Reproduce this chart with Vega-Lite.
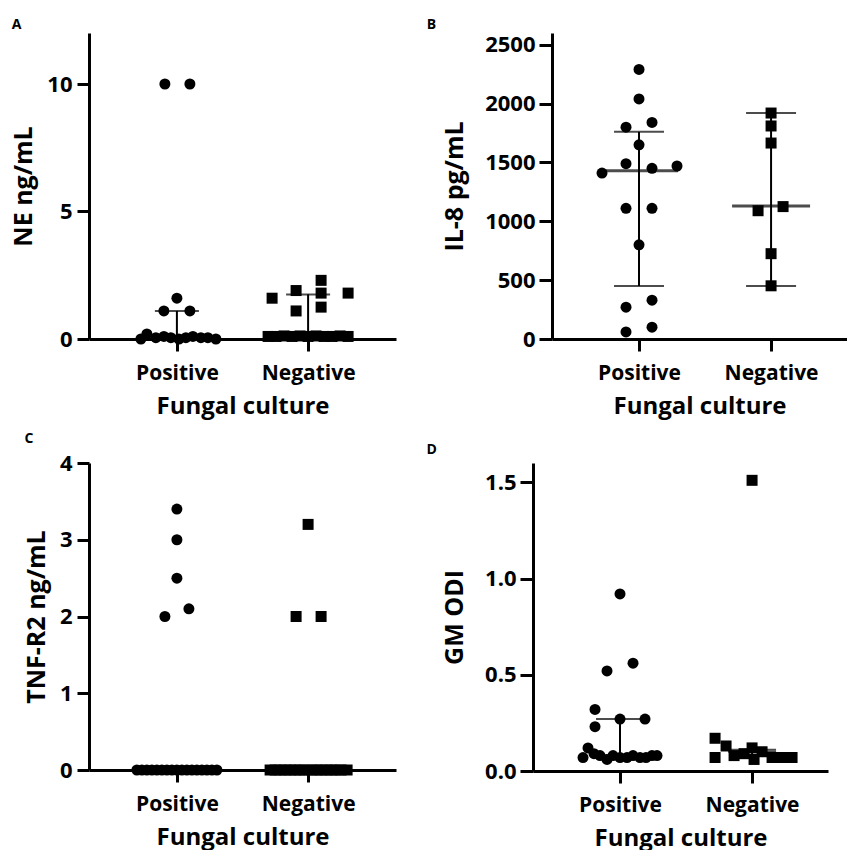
{
  "$schema": "https://vega.github.io/schema/vega-lite/v6.json",
  "background": "white",
  "padding": {"left": 11, "top": 18, "right": 0, "bottom": 0},
  "spacing": 14,
  "datasets": {
    "A": [
      {"group": "Positive", "col": -12, "value": 10}, {"group": "Positive", "col": 13, "value": 10},
      {"group": "Positive", "col": 0, "value": 1.6},
      {"group": "Positive", "col": -13, "value": 1.1}, {"group": "Positive", "col": 13, "value": 1.1},
      {"group": "Positive", "col": -36, "value": 0}, {"group": "Positive", "col": -30, "value": 0.2},
      {"group": "Positive", "col": -21, "value": 0.05}, {"group": "Positive", "col": -13, "value": 0.1},
      {"group": "Positive", "col": -6, "value": 0.05}, {"group": "Positive", "col": 2, "value": 0},
      {"group": "Positive", "col": 9, "value": 0.05}, {"group": "Positive", "col": 16, "value": 0.1},
      {"group": "Positive", "col": 24, "value": 0.05}, {"group": "Positive", "col": 31, "value": 0.05},
      {"group": "Positive", "col": 39, "value": 0},
      {"group": "Negative", "col": -36, "value": 1.6}, {"group": "Negative", "col": -12, "value": 1.9},
      {"group": "Negative", "col": -12, "value": 1.1}, {"group": "Negative", "col": 13, "value": 2.3},
      {"group": "Negative", "col": 13, "value": 1.8}, {"group": "Negative", "col": 13, "value": 1.25},
      {"group": "Negative", "col": 40, "value": 1.8},
      {"group": "Negative", "col": -40, "value": 0.1}, {"group": "Negative", "col": -32, "value": 0.1},
      {"group": "Negative", "col": -24, "value": 0.12}, {"group": "Negative", "col": -16, "value": 0.1},
      {"group": "Negative", "col": -8, "value": 0.12}, {"group": "Negative", "col": 0, "value": 0.1},
      {"group": "Negative", "col": 8, "value": 0.12}, {"group": "Negative", "col": 16, "value": 0.1},
      {"group": "Negative", "col": 24, "value": 0.1}, {"group": "Negative", "col": 32, "value": 0.12},
      {"group": "Negative", "col": 40, "value": 0.1}
    ],
    "Aeb": [
      {"group": "Positive", "lo": 0, "mid": 0.05, "hi": 1.1},
      {"group": "Negative", "lo": 0, "mid": 0.1, "hi": 1.75}
    ],
    "B": [
      {"group": "Positive", "col": 0, "value": 2290}, {"group": "Positive", "col": 0, "value": 2040},
      {"group": "Positive", "col": 13, "value": 1840}, {"group": "Positive", "col": -13, "value": 1800},
      {"group": "Positive", "col": 0, "value": 1650}, {"group": "Positive", "col": -13, "value": 1490},
      {"group": "Positive", "col": 13, "value": 1450}, {"group": "Positive", "col": 38, "value": 1470},
      {"group": "Positive", "col": -37, "value": 1410}, {"group": "Positive", "col": -13, "value": 1110},
      {"group": "Positive", "col": 13, "value": 1110}, {"group": "Positive", "col": 0, "value": 800},
      {"group": "Positive", "col": 13, "value": 330}, {"group": "Positive", "col": -13, "value": 270},
      {"group": "Positive", "col": 13, "value": 100}, {"group": "Positive", "col": -13, "value": 60},
      {"group": "Negative", "col": 0, "value": 1920}, {"group": "Negative", "col": 0, "value": 1810},
      {"group": "Negative", "col": 0, "value": 1665}, {"group": "Negative", "col": -13, "value": 1090},
      {"group": "Negative", "col": 12, "value": 1125}, {"group": "Negative", "col": 0, "value": 725},
      {"group": "Negative", "col": 0, "value": 452}
    ],
    "Beb": [
      {"group": "Positive", "lo": 450, "mid": 1430, "hi": 1760},
      {"group": "Negative", "lo": 450, "mid": 1130, "hi": 1920}
    ],
    "C": [
      {"group": "Positive", "col": 0, "value": 3.4}, {"group": "Positive", "col": 0, "value": 3.0},
      {"group": "Positive", "col": 0, "value": 2.5}, {"group": "Positive", "col": 12, "value": 2.1},
      {"group": "Positive", "col": -12, "value": 2.0},
      {"group": "Positive", "col": -40, "value": 0}, {"group": "Positive", "col": -35, "value": 0},
      {"group": "Positive", "col": -30, "value": 0}, {"group": "Positive", "col": -25, "value": 0},
      {"group": "Positive", "col": -20, "value": 0}, {"group": "Positive", "col": -15, "value": 0},
      {"group": "Positive", "col": -10, "value": 0}, {"group": "Positive", "col": -5, "value": 0},
      {"group": "Positive", "col": 0, "value": 0}, {"group": "Positive", "col": 5, "value": 0},
      {"group": "Positive", "col": 10, "value": 0}, {"group": "Positive", "col": 15, "value": 0},
      {"group": "Positive", "col": 20, "value": 0}, {"group": "Positive", "col": 25, "value": 0},
      {"group": "Positive", "col": 30, "value": 0}, {"group": "Positive", "col": 35, "value": 0},
      {"group": "Positive", "col": 40, "value": 0},
      {"group": "Negative", "col": 0, "value": 3.2}, {"group": "Negative", "col": -12, "value": 2.0},
      {"group": "Negative", "col": 13, "value": 2.0},
      {"group": "Negative", "col": -38, "value": 0}, {"group": "Negative", "col": -33, "value": 0},
      {"group": "Negative", "col": -28, "value": 0}, {"group": "Negative", "col": -23, "value": 0},
      {"group": "Negative", "col": -18, "value": 0}, {"group": "Negative", "col": -13, "value": 0},
      {"group": "Negative", "col": -8, "value": 0}, {"group": "Negative", "col": -3, "value": 0},
      {"group": "Negative", "col": 3, "value": 0}, {"group": "Negative", "col": 8, "value": 0},
      {"group": "Negative", "col": 13, "value": 0}, {"group": "Negative", "col": 18, "value": 0},
      {"group": "Negative", "col": 23, "value": 0}, {"group": "Negative", "col": 28, "value": 0},
      {"group": "Negative", "col": 33, "value": 0}, {"group": "Negative", "col": 39, "value": 0}
    ],
    "Ceb": [
      {"group": "Positive", "lo": 0, "mid": 0, "hi": 0},
      {"group": "Negative", "lo": 0, "mid": 0, "hi": 0}
    ],
    "D": [
      {"group": "Positive", "col": 0, "value": 0.92}, {"group": "Positive", "col": 13, "value": 0.56},
      {"group": "Positive", "col": -13, "value": 0.52}, {"group": "Positive", "col": -25, "value": 0.32},
      {"group": "Positive", "col": 0, "value": 0.27}, {"group": "Positive", "col": 25, "value": 0.27},
      {"group": "Positive", "col": -25, "value": 0.23},
      {"group": "Positive", "col": -37, "value": 0.07}, {"group": "Positive", "col": -32, "value": 0.12},
      {"group": "Positive", "col": -26, "value": 0.09}, {"group": "Positive", "col": -20, "value": 0.08},
      {"group": "Positive", "col": -13, "value": 0.06}, {"group": "Positive", "col": -7, "value": 0.08},
      {"group": "Positive", "col": 0, "value": 0.07}, {"group": "Positive", "col": 7, "value": 0.07},
      {"group": "Positive", "col": 13, "value": 0.08}, {"group": "Positive", "col": 20, "value": 0.07},
      {"group": "Positive", "col": 26, "value": 0.07}, {"group": "Positive", "col": 32, "value": 0.08},
      {"group": "Positive", "col": 37, "value": 0.08},
      {"group": "Negative", "col": 0, "value": 1.51}, {"group": "Negative", "col": -37, "value": 0.17},
      {"group": "Negative", "col": -37, "value": 0.07}, {"group": "Negative", "col": -26, "value": 0.13},
      {"group": "Negative", "col": -18, "value": 0.08}, {"group": "Negative", "col": -8, "value": 0.09},
      {"group": "Negative", "col": 0, "value": 0.12}, {"group": "Negative", "col": 2, "value": 0.06},
      {"group": "Negative", "col": 10, "value": 0.1}, {"group": "Negative", "col": 20, "value": 0.07},
      {"group": "Negative", "col": 30, "value": 0.07}, {"group": "Negative", "col": 40, "value": 0.07}
    ],
    "Deb": [
      {"group": "Positive", "lo": 0.07, "mid": 0.08, "hi": 0.27},
      {"group": "Negative", "lo": 0.07, "mid": 0.1, "hi": 0.11}
    ]
  },
  "vconcat": [
    {
      "spacing": 30,
      "hconcat": [
        {
          "width": 307, "height": 306,
          "title": {"text": "A", "dx": 0, "offset": 1},
          "layer": [
            {
              "data": {"name": "A"},
              "mark": {"type": "point", "filled": true, "size": 121, "opacity": 1, "color": "black"},
              "encoding": {
                "x": {"field": "group", "type": "nominal", "sort": ["Positive", "Negative"], "scale": {"type": "point", "padding": 0.67}, "title": "Fungal culture"},
                "xOffset": {"field": "col", "type": "quantitative", "scale": {"domain": [-50, 50], "range": [-50, 50]}},
                "y": {"field": "value", "type": "quantitative", "scale": {"domain": [0, 12]}, "axis": {"values": [0, 5, 10], "format": "d", "titlePadding": 10}, "title": "NE ng/mL"},
                "shape": {"field": "group", "type": "nominal", "scale": {"domain": ["Positive", "Negative"], "range": ["circle", "square"]}, "legend": null}
              }
            },
            {
              "data": {"name": "Aeb"},
              "mark": {"type": "rule", "color": "black", "strokeWidth": 2},
              "encoding": {
                "x": {"field": "group", "type": "nominal", "sort": ["Positive", "Negative"], "title": "Fungal culture"},
                "y": {"field": "lo", "type": "quantitative", "title": "NE ng/mL"},
                "y2": {"field": "hi"}
              }
            },
            {
              "data": {"name": "Aeb"},
              "mark": {"type": "tick", "color": "black", "thickness": 2, "size": 44},
              "encoding": {
                "x": {"field": "group", "type": "nominal", "sort": ["Positive", "Negative"], "title": "Fungal culture"},
                "y": {"field": "hi", "type": "quantitative", "title": "NE ng/mL"}
              }
            }
          ]
        },
        {
          "width": 295, "height": 306,
          "title": {"text": "B", "dx": -16, "offset": 1},
          "layer": [
            {
              "data": {"name": "B"},
              "mark": {"type": "point", "filled": true, "size": 121, "opacity": 1, "color": "black"},
              "encoding": {
                "x": {"field": "group", "type": "nominal", "sort": ["Positive", "Negative"], "scale": {"type": "point", "padding": 0.617, "align": 0.534}, "title": "Fungal culture"},
                "xOffset": {"field": "col", "type": "quantitative", "scale": {"domain": [-50, 50], "range": [-50, 50]}},
                "y": {"field": "value", "type": "quantitative", "scale": {"domain": [0, 2500]}, "axis": {"values": [0, 500, 1000, 1500, 2000, 2500], "format": "d", "labelPadding": 4, "tickSize": 13, "titlePadding": 17}, "title": "IL-8 pg/mL"},
                "shape": {"field": "group", "type": "nominal", "scale": {"domain": ["Positive", "Negative"], "range": ["circle", "square"]}, "legend": null}
              }
            },
            {
              "data": {"name": "Beb"},
              "mark": {"type": "rule", "color": "black", "strokeWidth": 2},
              "encoding": {
                "x": {"field": "group", "type": "nominal", "sort": ["Positive", "Negative"], "title": "Fungal culture"},
                "y": {"field": "lo", "type": "quantitative", "title": "IL-8 pg/mL"},
                "y2": {"field": "hi"}
              }
            },
            {
              "data": {"name": "Beb"},
              "mark": {"type": "tick", "color": "black", "thickness": 2, "size": 50},
              "encoding": {
                "x": {"field": "group", "type": "nominal", "sort": ["Positive", "Negative"], "title": "Fungal culture"},
                "y": {"field": "hi", "type": "quantitative", "title": "IL-8 pg/mL"}
              }
            },
            {
              "data": {"name": "Beb"},
              "mark": {"type": "tick", "color": "black", "thickness": 2, "size": 50},
              "encoding": {
                "x": {"field": "group", "type": "nominal", "sort": ["Positive", "Negative"], "title": "Fungal culture"},
                "y": {"field": "lo", "type": "quantitative", "title": "IL-8 pg/mL"}
              }
            },
            {
              "data": {"name": "Beb"},
              "mark": {"type": "tick", "color": "black", "thickness": 3, "size": 78},
              "encoding": {
                "x": {"field": "group", "type": "nominal", "sort": ["Positive", "Negative"], "title": "Fungal culture"},
                "y": {"field": "mid", "type": "quantitative", "title": "IL-8 pg/mL"}
              }
            }
          ]
        }
      ]
    },
    {
      "spacing": 30,
      "hconcat": [
        {
          "width": 307, "height": 307,
          "title": {"text": "C", "dx": 0},
          "layer": [
            {
              "data": {"name": "C"},
              "mark": {"type": "point", "filled": true, "size": 121, "opacity": 1, "color": "black"},
              "encoding": {
                "x": {"field": "group", "type": "nominal", "sort": ["Positive", "Negative"], "scale": {"type": "point", "padding": 0.67}, "title": "Fungal culture"},
                "xOffset": {"field": "col", "type": "quantitative", "scale": {"domain": [-50, 50], "range": [-50, 50]}},
                "y": {"field": "value", "type": "quantitative", "scale": {"domain": [0, 4]}, "axis": {"values": [0, 1, 2, 3, 4], "format": "d", "titlePadding": 10}, "title": "TNF-R2 ng/mL"},
                "shape": {"field": "group", "type": "nominal", "scale": {"domain": ["Positive", "Negative"], "range": ["circle", "square"]}, "legend": null}
              }
            },
            {
              "data": {"name": "Ceb"},
              "mark": {"type": "rule", "color": "black", "strokeWidth": 2},
              "encoding": {
                "x": {"field": "group", "type": "nominal", "sort": ["Positive", "Negative"], "title": "Fungal culture"},
                "y": {"field": "lo", "type": "quantitative", "title": "TNF-R2 ng/mL"},
                "y2": {"field": "hi"}
              }
            }
          ]
        },
        {
          "width": 295, "height": 308,
          "title": {"text": "D", "dx": -16},
          "layer": [
            {
              "data": {"name": "D"},
              "mark": {"type": "point", "filled": true, "size": 121, "opacity": 1, "color": "black"},
              "encoding": {
                "x": {"field": "group", "type": "nominal", "sort": ["Positive", "Negative"], "scale": {"type": "point", "padding": 0.617, "align": 0.534}, "title": "Fungal culture"},
                "xOffset": {"field": "col", "type": "quantitative", "scale": {"domain": [-50, 50], "range": [-50, 50]}},
                "y": {"field": "value", "type": "quantitative", "scale": {"domain": [0, 1.6]}, "axis": {"values": [0, 0.5, 1.0, 1.5], "format": ".1f", "labelPadding": 4, "tickSize": 13, "titlePadding": 17}, "title": "GM ODI"},
                "shape": {"field": "group", "type": "nominal", "scale": {"domain": ["Positive", "Negative"], "range": ["circle", "square"]}, "legend": null}
              }
            },
            {
              "data": {"name": "Deb"},
              "mark": {"type": "rule", "color": "black", "strokeWidth": 2},
              "encoding": {
                "x": {"field": "group", "type": "nominal", "sort": ["Positive", "Negative"], "title": "Fungal culture"},
                "y": {"field": "lo", "type": "quantitative", "title": "GM ODI"},
                "y2": {"field": "hi"}
              }
            },
            {
              "data": {"name": "Deb"},
              "mark": {"type": "tick", "color": "black", "thickness": 2, "size": 48},
              "encoding": {
                "x": {"field": "group", "type": "nominal", "sort": ["Positive", "Negative"], "title": "Fungal culture"},
                "y": {"field": "hi", "type": "quantitative", "title": "GM ODI"}
              }
            },
            {
              "data": {"name": "Deb"},
              "mark": {"type": "tick", "color": "black", "thickness": 2, "size": 48},
              "encoding": {
                "x": {"field": "group", "type": "nominal", "sort": ["Positive", "Negative"], "title": "Fungal culture"},
                "y": {"field": "mid", "type": "quantitative", "title": "GM ODI"}
              }
            }
          ]
        }
      ]
    }
  ],
  "config": {
    "view": {"stroke": null},
    "font": "Open Sans",
    "axis": {
      "domainColor": "black", "domainWidth": 3, "tickColor": "black", "tickWidth": 3,
      "labelColor": "black", "labelFont": "Open Sans", "labelFontWeight": "bold", "labelFontSize": 22,
      "titleColor": "black", "titleFont": "Open Sans", "titleFontWeight": "bold", "titleFontSize": 25, "grid": false
    },
    "axisX": {"labelAngle": 0, "tickSize": 12, "labelFontSize": 21, "labelPadding": 11, "titlePadding": 11, "titleFontSize": 24},
    "axisY": {"tickSize": 12, "labelPadding": 5, "titlePadding": 14},
    "title": {"font": "Open Sans", "fontSize": 14, "fontWeight": "bold", "color": "black", "anchor": "start", "frame": "bounds", "offset": 6}
  }
}
